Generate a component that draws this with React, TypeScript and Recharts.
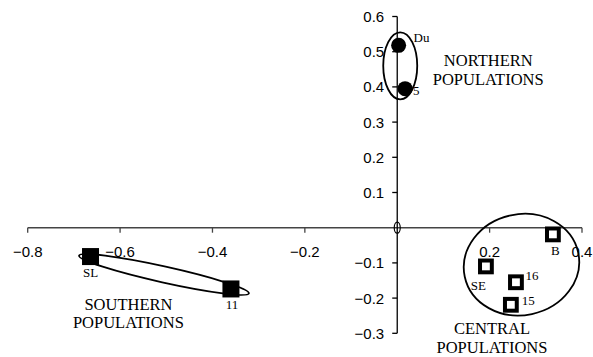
import React from "react";
import { ScatterChart, Scatter, XAxis, YAxis, ReferenceLine, ReferenceDot } from "recharts";

// population scores on the first two axes
const northern = [
  { name: "Du", x: 0.003, y: 0.518 },
  { name: "5", x: 0.017, y: 0.395 },
];
const southern = [
  { name: "SL", x: -0.664, y: -0.082 },
  { name: "11", x: -0.36, y: -0.174 },
];
const central = [
  { name: "B", x: 0.337, y: -0.019 },
  { name: "SE", x: 0.192, y: -0.11 },
  { name: "16", x: 0.257, y: -0.155 },
  { name: "15", x: 0.246, y: -0.219 },
];

const xTicks = [-0.8, -0.6, -0.4, -0.2, 0.2, 0.4];
const yTicks = [0.6, 0.5, 0.4, 0.3, 0.2, 0.1, -0.1, -0.2, -0.3];

const groupNames = ["NORTHERN", "SOUTHERN", "CENTRAL"];
const groupLabelX = [0.197, -0.582, 0.205];
const groupLabelY = [0.475, -0.217, -0.287];
const groupCentreX = [0.0065, -0.505, 0.269];
const groupCentreY = [0.46, -0.133, -0.105];

// ellipse sizes in px
const ellipseStyle = [
  { rx: 17, ry: 33.5, rot: 0 },
  { rx: 87, ry: 8, rot: 12.5 },
  { rx: 58, ry: 50.5, rot: -12 },
];

// label offsets in px, relative to the marker
const labelPos: Record<string, { dx: number; dy: number; anchor: string }> = {
  Du: { dx: 15, dy: -8, anchor: "start" },
  "5": { dx: 8, dy: 2, anchor: "start" },
  SL: { dx: 0, dy: 16, anchor: "middle" },
  "11": { dx: 1, dy: 16, anchor: "middle" },
  B: { dx: 2.5, dy: 16.5, anchor: "middle" },
  SE: { dx: -7.5, dy: 19.5, anchor: "middle" },
  "16": { dx: 9.5, dy: -7, anchor: "start" },
  "15": { dx: 11, dy: -4, anchor: "start" },
};

const serif = "'Liberation Serif', 'Times New Roman', serif";
const sans = "'Liberation Sans', Arial, sans-serif";

const fmt = (v: number) => (v < 0 ? "\u2212" + Math.abs(v).toFixed(1) : v.toFixed(1));

const PointLabel = ({ cx, cy, name }: any) => {
  const p = labelPos[name];
  return (
    <text x={cx + p.dx} y={cy + p.dy} textAnchor={p.anchor as any} dominantBaseline="central" fontFamily={serif} fontSize={13} fill="#000">
      {name}
    </text>
  );
};

const Circle = (props: any) => (
  <g>
    <circle cx={props.cx} cy={props.cy} r={7.5} fill="#000" />
    <PointLabel cx={props.cx} cy={props.cy} name={props.payload.name} />
  </g>
);

const Square = (props: any) => (
  <g>
    <rect x={props.cx - 8.5} y={props.cy - 8.5} width={17} height={17} fill="#000" />
    <PointLabel cx={props.cx} cy={props.cy} name={props.payload.name} />
  </g>
);

const HollowSquare = (props: any) => (
  <g>
    <rect x={props.cx - 5.9} y={props.cy - 5.9} width={11.8} height={11.8} fill="#fff" stroke="#000" strokeWidth={4} />
    <PointLabel cx={props.cx} cy={props.cy} name={props.payload.name} />
  </g>
);

export default function App() {
  return (
    <div style={{ position: "absolute", left: 0, top: 0, background: "#fff" }}>
      <ScatterChart width={593} height={357} margin={{ top: 16.5, right: 11, bottom: 23.7, left: 27.7 }}>
        <XAxis type="number" dataKey="x" domain={[-0.8, 0.4]} hide />
        <YAxis type="number" dataKey="y" domain={[-0.3, 0.6]} hide />
        <ReferenceLine y={0} stroke="#444" strokeWidth={1.5} />
        <ReferenceLine x={0} stroke="#000" strokeWidth={1.3} />
        {xTicks.map((t) => (
          <ReferenceDot
            key={"xt" + t}
            x={t}
            y={0}
            shape={(p: any) => (
              <g>
                <line x1={p.cx} y1={p.cy} x2={p.cx} y2={p.cy + 5} stroke="#444" strokeWidth={1.3} />
                <text x={p.cx} y={p.cy + 24} textAnchor="middle" dominantBaseline="central" fontFamily={sans} fontSize={15} fill="#000">
                  {fmt(t)}
                </text>
              </g>
            )}
          />
        ))}
        {yTicks.map((t) => (
          <ReferenceDot
            key={"yt" + t}
            x={0}
            y={t}
            shape={(p: any) => (
              <g>
                <line x1={p.cx - 5} y1={p.cy} x2={p.cx} y2={p.cy} stroke="#000" strokeWidth={1.3} />
                <text x={p.cx - 13} y={p.cy} textAnchor="end" dominantBaseline="central" fontFamily={sans} fontSize={15} fill="#000">
                  {fmt(t)}
                </text>
              </g>
            )}
          />
        ))}
        <ReferenceDot
          x={0}
          y={0}
          shape={(p: any) => <ellipse cx={p.cx} cy={p.cy} rx={3} ry={5.5} fill="none" stroke="#000" strokeWidth={1.2} />}
        />
        {groupNames.map((g, i) => (
          <ReferenceDot
            key={"el" + g}
            x={groupCentreX[i]}
            y={groupCentreY[i]}
            shape={(p: any) => (
              <ellipse
                cx={p.cx}
                cy={p.cy}
                rx={ellipseStyle[i].rx}
                ry={ellipseStyle[i].ry}
                transform={`rotate(${ellipseStyle[i].rot} ${p.cx} ${p.cy})`}
                fill="none"
                stroke="#000"
                strokeWidth={1.8}
              />
            )}
          />
        ))}
        {groupNames.map((g, i) => (
          <ReferenceDot
            key={"gl" + g}
            x={groupLabelX[i]}
            y={groupLabelY[i]}
            shape={(p: any) => (
              <text textAnchor="middle" fontFamily={serif} fontSize={16.5} fill="#000">
                <tspan x={p.cx} y={p.cy} dominantBaseline="central">{g}</tspan>
                <tspan x={p.cx} y={p.cy + 18.5} dominantBaseline="central">POPULATIONS</tspan>
              </text>
            )}
          />
        ))}
        <Scatter data={northern} shape={Circle} isAnimationActive={false} />
        <Scatter data={southern} shape={Square} isAnimationActive={false} />
        <Scatter data={central} shape={HollowSquare} isAnimationActive={false} />
      </ScatterChart>
    </div>
  );
}
